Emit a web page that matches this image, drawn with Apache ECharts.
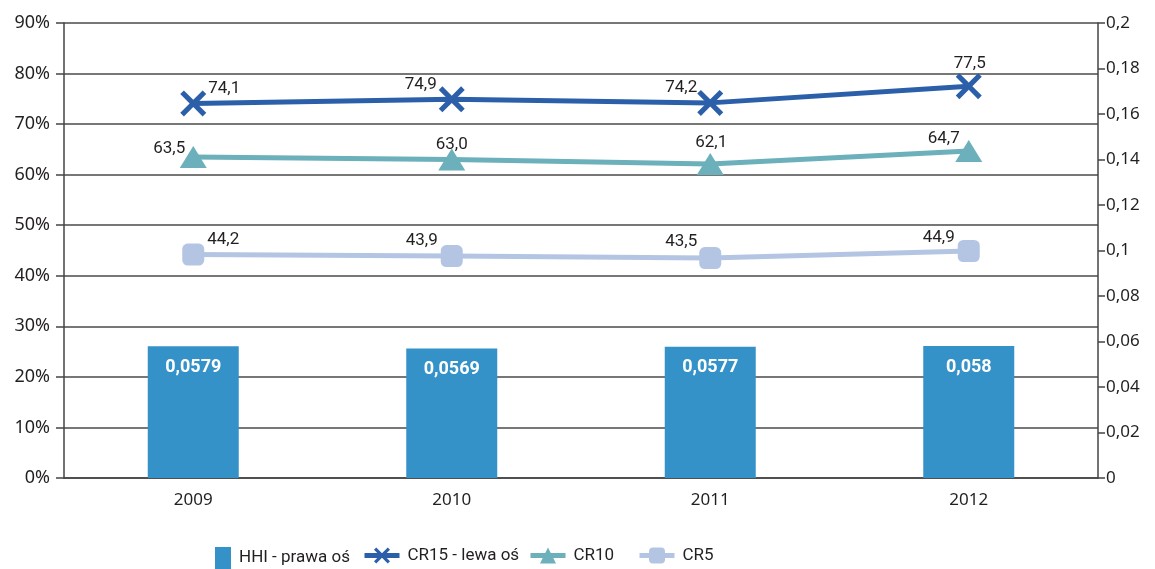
<!DOCTYPE html>
<html>
<head>
<meta charset="utf-8">
<script src="https://cdn.jsdelivr.net/npm/echarts@6/dist/echarts.min.js"></script>
<style>
  html, body { margin: 0; padding: 0; background: #fff; }
  #main { width: 1155px; height: 569px; }
</style>
</head>
<body>
<div id="main"></div>
<script>
// dane
var years = ['2009', '2010', '2011', '2012'];
var hhi = [0.0579, 0.0569, 0.0577, 0.058];
var cr15 = [74.1, 74.9, 74.2, 77.5];
var cr10 = [63.5, 63.0, 62.1, 64.7];
var cr5 = [44.2, 43.9, 43.5, 44.9];

// przesuniecia etykiet [dx, dy] wzgledem punktu
var cr15Offsets = [[31, -15], [-31, -15], [-29, -15], [1, -22]];
var cr10Offsets = [[-24, -8], [0, -15], [1, -21], [-25, -12]];
var cr5Offsets = [[30, -15], [-30, -15], [-29, -16], [-30, -13]];

var narrow = 'Liberation Sans Narrow, Roboto, Noto Sans';
var comma = function (v) { return String(v).replace('.', ','); };
var crossPath = 'path://M1.4,0 L5,3.6 L8.6,0 L10,1.4 L6.4,5 L10,8.6 L8.6,10 L5,6.4 L1.4,10 L0,8.6 L3.6,5 L0,1.4 Z';

function withLabels(values, offsets) {
  return values.map(function (v, i) {
    return { value: v, label: { offset: offsets[i] } };
  });
}

var chart = echarts.init(document.getElementById('main'));

var labelStyle = {
  show: true,
  position: 'inside',
  fontFamily: narrow,
  fontSize: 17,
  color: '#231f20',
  formatter: function (p) { return p.value.toFixed(1).replace('.', ','); }
};

function legendAt(left, item, w, h) {
  return {
    left: left,
    top: 547,
    padding: 0,
    itemWidth: w || 35,
    itemHeight: h || 20,
    itemGap: 0,
    lineStyle: { width: 5 },
    textStyle: { fontFamily: narrow, fontSize: 17, color: '#231f20', padding: [0, 0, 0, 3] },
    data: [item]
  };
}

var option = {
  animation: false,
  grid: { left: 64, right: 57, top: 23, bottom: 91 },
  legend: [
    legendAt(215, { name: 'HHI - prawa oś', icon: 'rect' }, 16, 22),
    legendAt(362, 'CR15 - lewa oś'),
    legendAt(528, 'CR10'),
    legendAt(637, 'CR5')
  ],
  xAxis: {
    type: 'category',
    data: years,
    axisLine: { lineStyle: { color: '#444', width: 1.5 } },
    axisTick: { length: 8, lineStyle: { color: '#444', width: 1.5 } },
    axisLabel: { fontFamily: 'Noto Sans', fontSize: 17, color: '#231f20', margin: 14 }
  },
  yAxis: [{
    type: 'value',
    min: 0, max: 90, interval: 10,
    axisLine: { show: true, lineStyle: { color: '#444', width: 1.5 } },
    axisTick: { show: true, length: 8, lineStyle: { color: '#444', width: 1.5 } },
    splitLine: { lineStyle: { color: '#4a4a4a', width: 1.5 } },
    axisLabel: { fontFamily: 'Noto Sans', fontSize: 18, color: '#231f20', margin: 14, formatter: '{value}%' }
  }, {
    type: 'value',
    min: 0, max: 0.2, interval: 0.02,
    axisLine: { show: true, lineStyle: { color: '#444', width: 1.5 } },
    axisTick: { show: true, length: 7, lineStyle: { color: '#444', width: 1.5 } },
    splitLine: { show: false },
    axisLabel: {
      fontFamily: 'Noto Sans', fontSize: 17, color: '#231f20', margin: 8,
      formatter: function (v) { return comma(Math.round(v * 100) / 100); }
    }
  }],
  series: [{
    name: 'HHI - prawa oś',
    type: 'bar',
    yAxisIndex: 1,
    data: hhi,
    barWidth: 91,
    itemStyle: { color: '#3592c8' },
    label: {
      show: true,
      position: 'insideTop',
      distance: 12,
      fontFamily: narrow,
      fontWeight: 'bold',
      fontSize: 18,
      color: '#fff',
      formatter: function (p) { return comma(p.value); }
    }
  }, {
    name: 'CR15 - lewa oś',
    type: 'line',
    data: withLabels(cr15, cr15Offsets),
    symbol: crossPath,
    symbolSize: 26,
    lineStyle: { color: '#2b5faa', width: 5 },
    itemStyle: { color: '#2b5faa' },
    label: labelStyle
  }, {
    name: 'CR10',
    type: 'line',
    data: withLabels(cr10, cr10Offsets),
    symbol: 'triangle',
    symbolSize: [27, 22],
    lineStyle: { color: '#6bb0ba', width: 5 },
    itemStyle: { color: '#6bb0ba' },
    label: labelStyle
  }, {
    name: 'CR5',
    type: 'line',
    data: withLabels(cr5, cr5Offsets),
    symbol: 'roundRect',
    symbolSize: 22,
    lineStyle: { color: '#b4c5e4', width: 5 },
    itemStyle: { color: '#b4c5e4' },
    label: labelStyle
  }]
};

chart.setOption(option);
</script>
</body>
</html>
